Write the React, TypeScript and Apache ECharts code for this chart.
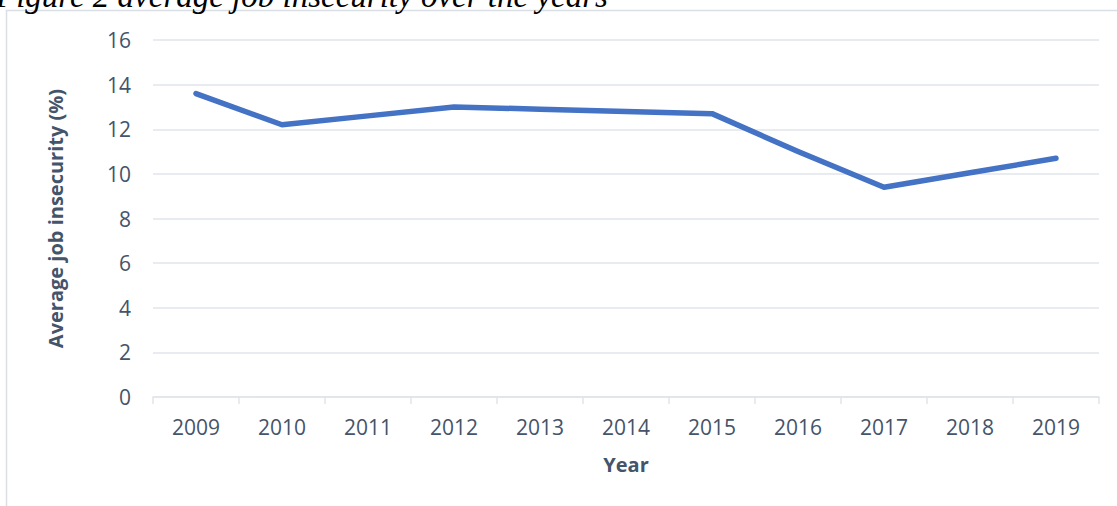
import React, { useEffect, useRef } from "react";
import * as echarts from "echarts";

const titleText = "Figure 2 average job insecurity over the years";
const years = ["2009", "2010", "2011", "2012", "2013", "2014", "2015", "2016", "2017", "2018", "2019"];
const insecurity = [13.6, 12.2, 12.6, 13.0, 12.9, 12.8, 12.7, 11.0, 9.4, 10.05, 10.7];
const xName = "Year";
const yName = "Average job insecurity (%)";

export default function App() {
  const ref = useRef<HTMLDivElement>(null);
  useEffect(() => {
    if (!ref.current) return;
    const chart = echarts.init(ref.current, undefined, { renderer: "svg" });
    const textColor = "#44546A";
    const gridColor = "#E1E5EA";
    chart.setOption({
      animation: false,
      backgroundColor: "#ffffff",
      graphic: [
        {
          type: "rect",
          shape: { x: 6.5, y: 10.5, width: 1200, height: 600 },
          style: { fill: "none", stroke: "#DADFE6", lineWidth: 1.5 },
          silent: true,
        },
        {
          type: "text",
          x: -4,
          y: 12,
          style: {
            text: titleText,
            font: "italic 33px 'Liberation Serif', 'Times New Roman', serif",
            fill: "#000000",
            textVerticalAlign: "bottom",
          },
        },
      ],
      grid: { left: 153, right: 18, top: 40, bottom: 109, containLabel: false },
      xAxis: {
        type: "category",
        data: years,
        boundaryGap: true,
        name: xName,
        nameLocation: "middle",
        nameGap: 57,
        nameTextStyle: { color: textColor, fontSize: 20, fontWeight: "bold", fontFamily: "Open Sans" },
        axisLine: { show: true, lineStyle: { color: gridColor, width: 1.5 } },
        axisTick: { show: true, alignWithLabel: false, length: 7, lineStyle: { color: gridColor, width: 1.5 } },
        axisLabel: { color: textColor, fontSize: 21, fontFamily: "Open Sans", margin: 19 },
        splitLine: { show: false },
      },
      yAxis: {
        type: "value",
        min: 0,
        max: 16,
        interval: 2,
        name: yName,
        nameLocation: "middle",
        nameRotate: 90,
        nameGap: 88,
        nameTextStyle: { color: textColor, fontSize: 20, fontWeight: "bold", fontFamily: "Open Sans" },
        axisLine: { show: false },
        axisTick: { show: false },
        axisLabel: { color: textColor, fontSize: 21, fontFamily: "Open Sans", margin: 22 },
        splitLine: { show: true, lineStyle: { color: gridColor, width: 1.5 } },
      },
      series: [
        {
          type: "line",
          data: insecurity,
          symbol: "none",
          lineStyle: { color: "#4472C4", width: 5.5, cap: "round", join: "round" },
          z: 5,
        },
      ],
    });
    return () => chart.dispose();
  }, []);
  return (
    <div
      ref={ref}
      style={{ position: "absolute", left: 0, top: 0, width: 1117, height: 506 }}
    />
  );
}
